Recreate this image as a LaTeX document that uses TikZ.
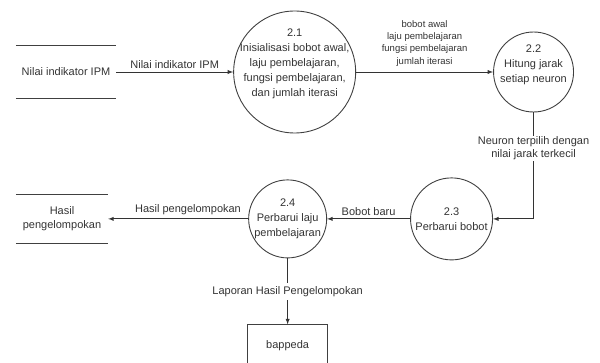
\documentclass[tikz,border=0pt]{standalone}
\usepackage{fontspec}
\setmainfont{Liberation Sans}
\usetikzlibrary{positioning}

\begin{document}
\begin{tikzpicture}[x=1pt, y=1pt, >=latex, every node/.style={text=black!80}, proc/.style={draw=black!75, line width=0.9pt, circle, inner sep=0pt}, proctext/.style={inner sep=0pt, align=center, font=\fontsize{11}{15}\selectfont}, store/.style={inner sep=0pt, align=center, font=\fontsize{11}{14}\selectfont}, ext/.style={draw=black!75, line width=0.9pt, minimum width=80pt, minimum height=42pt, font=\fontsize{11}{14}\selectfont}, label/.style={font=\fontsize{11}{13}\selectfont, align=center}, small/.style={font=\fontsize{9.5}{12.3}\selectfont, align=center}, flow/.style={->, draw=black!80, line width=0.9pt}]
    \useasboundingbox (0,0) rectangle (600,-363);

    \node[store, minimum width=100pt, minimum height=53pt] (S1) at (66,-72) {Nilai indikator IPM};
    \node[proc, minimum size=122pt, right=117pt of S1] (P1) {};
    \node[proc, minimum size=80pt, right=137pt of P1] (P2) {};
    \node[proc, minimum size=82pt, below=65pt of P2, xshift=-82pt] (P3) {};
    \node[proc, minimum size=78pt, left=83pt of P3] (P4) {};
    \node[store, minimum width=92pt, minimum height=49pt, left=140pt of P4] (S2) {Hasil\\pengelompokan};
    \node[ext, below=66pt of P4] (B) {bappeda};

    % process texts
    \node[proctext, yshift=8.5pt] (P1t) at (P1) {2.1\\Inisialisasi bobot awal,\\laju pembelajaran,\\fungsi pembelajaran,\\dan jumlah iterasi};
    \node[proctext, yshift=7pt] (P2t) at (P2) {2.2\\Hitung jarak\\setiap neuron};
    \node[proctext] (P3t) at (P3) {2.3\\Perbarui bobot};
    \node[proctext] (P4t) at (P4) {2.4\\Perbarui laju\\pembelajaran};

    \draw[draw=black!75, line width=1pt]
        (S1.north west) -- (S1.north east)
        (S1.south west) -- (S1.south east)
        (S2.north west) -- (S2.north east)
        (S2.south west) -- (S2.south east);

    \path (S1) edge[flow] node[label, above] {Nilai indikator IPM} (P1);
    \path (P1) edge[flow] node[small, above=2pt] {bobot awal\\laju pembelajaran\\fungsi pembelajaran\\jumlah iterasi} (P2);
    \draw[flow] (P2) |- node[label, pos=0.17, fill=white, inner sep=1pt] {Neuron terpilih dengan\\nilai jarak terkecil} (P3);
    \path (P3) edge[flow] node[label, above] {Bobot baru} (P4);
    \path (P4) edge[flow] node[label, above, pos=0.43] {Hasil pengelompokan} (S2);
    \path (P4) edge[flow] node[label, fill=white] {Laporan Hasil Pengelompokan} (B);
\end{tikzpicture}
\end{document}
